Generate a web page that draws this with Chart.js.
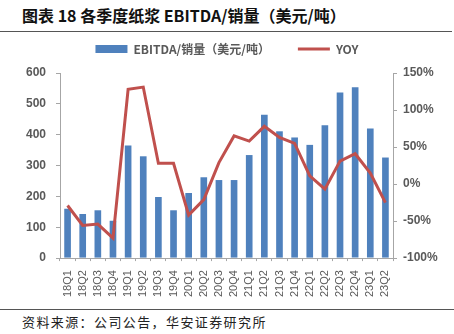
<!DOCTYPE html>
<html lang="zh">
<head>
    <meta charset="UTF-8">
    <title>各季度纸浆 EBITDA/销量</title>
    <script src="https://cdn.jsdelivr.net/npm/chart.js"></script>
    <style>
        body {
            margin: 0;
            width: 454px;
            height: 334px;
            background: #fff;
            position: relative;
            overflow: hidden;
            font-family: 'Noto Sans CJK SC', sans-serif;
        }
        .title {
            position: absolute;
            left: 22px;
            top: 4px;
            font-size: 16px;
            font-weight: bold;
            color: #111;
            line-height: 22px;
            white-space: nowrap;
        }
        .rule {
            position: absolute;
            left: 0;
            width: 452px;
            height: 1px;
            background: #555;
        }
        .chart-box {
            position: absolute;
            left: 0;
            top: 15px;
            width: 454px;
            height: 291px;
        }
        .source {
            position: absolute;
            left: 22px;
            top: 312px;
            font-size: 13px;
            letter-spacing: 1.4px;
            color: #222;
            white-space: nowrap;
        }
    </style>
</head>
<body>
<div class="title">图表 18 各季度纸浆 EBITDA/销量（美元/吨）</div>
<div class="rule" style="top:31px"></div>
<div class="chart-box"><canvas id="pulpChart" width="454" height="291"></canvas></div>
<div class="rule" style="top:309px; width:454px"></div>
<div class="source">资料来源：公司公告，华安证券研究所</div>

<script>
    const quarters = ['18Q1', '18Q2', '18Q3', '18Q4', '19Q1', '19Q2', '19Q3', '19Q4',
        '20Q1', '20Q2', '20Q3', '20Q4', '21Q1', '21Q2', '21Q3', '21Q4',
        '22Q1', '22Q2', '22Q3', '22Q4', '23Q1', '23Q2'];

    // EBITDA per tonne, USD
    const ebitdaPerTon = [160, 143, 155, 121, 365, 330, 198, 155,
        211, 262, 253, 253, 334, 465, 411, 391,
        367, 431, 537, 554, 420, 326];

    // year-on-year, %
    const yoy = [-29, -56, -54, -73, 128, 131, 28, 28,
        -42, -21, 29, 65, 58, 78, 63, 55,
        11, -7, 31, 41, 15, -25];

    const grey = '#595959';
    const axisGrey = '#a6a6a6';
    const numFont = { family: "'Liberation Sans', Arial, sans-serif", size: 12, weight: 'bold' };

    // extra room between the legend and the plot
    const legendGap = {
        id: 'legendGap',
        beforeInit(chart) {
            const fit = chart.legend.fit;
            chart.legend.fit = function () {
                fit.bind(chart.legend)();
                this.height += 8;
            };
        }
    };

    new Chart(document.getElementById('pulpChart').getContext('2d'), {
        data: {
            labels: quarters,
            datasets: [
                {
                    type: 'line',
                    label: 'YOY',
                    data: yoy,
                    yAxisID: 'yRight',
                    borderColor: '#c0504d',
                    backgroundColor: '#c0504d',
                    borderWidth: 3,
                    pointRadius: 0,
                    pointStyle: 'line',
                    tension: 0,
                    order: 0
                },
                {
                    type: 'bar',
                    label: 'EBITDA/销量（美元/吨）',
                    data: ebitdaPerTon,
                    yAxisID: 'yLeft',
                    backgroundColor: '#4f81bd',
                    borderWidth: 0,
                    pointStyle: 'rect',
                    barPercentage: 0.44,
                    categoryPercentage: 1,
                    order: 1
                }
            ]
        },
        options: {
            responsive: false,
            animation: false,
            layout: { padding: 0 },
            plugins: {
                legend: {
                    reverse: true,
                    labels: {
                        usePointStyle: true,
                        pointStyleWidth: 32,
                        boxHeight: 8,
                        padding: 28,
                        color: grey,
                        font: { family: "'Noto Sans CJK SC', sans-serif", size: 12, weight: 'bold' }
                    }
                },
                tooltip: { enabled: false }
            },
            scales: {
                x: {
                    offset: true,
                    grid: {
                        display: true,
                        drawOnChartArea: false,
                        offset: true,
                        tickLength: 3,
                        color: axisGrey
                    },
                    border: { color: axisGrey },
                    ticks: {
                        minRotation: 90,
                        maxRotation: 90,
                        autoSkip: false,
                        color: grey,
                        padding: 9,
                        font: { family: "'Liberation Sans', Arial, sans-serif", size: 11 }
                    }
                },
                yLeft: {
                    position: 'left',
                    min: 0,
                    max: 600,
                    afterFit: (s) => { s.width = 60; },
                    grid: { drawOnChartArea: false, tickLength: 4, color: axisGrey },
                    border: { color: axisGrey },
                    ticks: { stepSize: 100, color: grey, font: numFont, padding: 10 }
                },
                yRight: {
                    position: 'right',
                    min: -100,
                    max: 150,
                    afterFit: (s) => { s.width = 61; },
                    grid: { drawOnChartArea: false, tickLength: 4, color: axisGrey },
                    border: { color: axisGrey },
                    ticks: {
                        stepSize: 50,
                        color: grey,
                        font: numFont,
                        padding: 6,
                        callback: (v) => v + '%'
                    }
                }
            }
        },
        plugins: [legendGap]
    });
</script>
</body>
</html>
